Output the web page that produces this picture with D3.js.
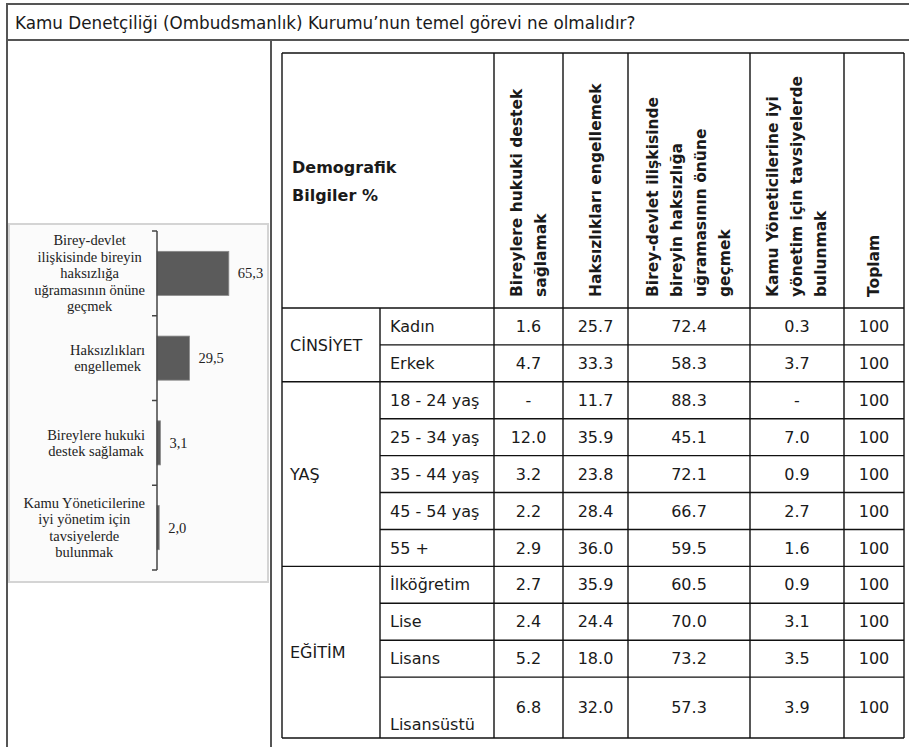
<!DOCTYPE html>
<html lang="tr">
<head>
<meta charset="UTF-8">
<title>Kamu Denetçiliği</title>
<script src="https://d3js.org/d3.v7.min.js"></script>
<style>
  html, body { margin: 0; padding: 0; background: #fff; }
  svg { display: block; }
  .t { font-family: "DejaVu Sans", sans-serif; fill: #1a1a1a; }
  .serif { font-family: "Liberation Serif", "Times New Roman", serif; fill: #222; }
</style>
</head>
<body>
<svg width="909" height="747"></svg>
<script>
// ---- data ----
const title = "Kamu Denetçiliği (Ombudsmanlık) Kurumu’nun temel görevi ne olmalıdır?";

// left bar chart
const chartLabels = [
  ["Birey-devlet", "ilişkisinde bireyin", "haksızlığa", "uğramasının önüne", "geçmek"],
  ["Haksızlıkları", "engellemek"],
  ["Bireylere hukuki", "destek sağlamak"],
  ["Kamu Yöneticilerine", "iyi yönetim için", "tavsiyelerde", "bulunmak"]
];
const chartValues = [65.3, 29.5, 3.1, 2.0];

// table
const headerLines = [
  ["Bireylere hukuki destek", "sağlamak"],
  ["Haksızlıkları engellemek"],
  ["Birey-devlet ilişkisinde", "bireyin haksızlığa", "uğramasının önüne", "geçmek"],
  ["Kamu Yöneticilerine iyi", "yönetim için tavsiyelerde", "bulunmak"],
  ["Toplam"]
];
const groups = ["CİNSİYET", "YAŞ", "EĞİTİM"];
const groupSizes = [2, 5, 4];
const subLabels = ["Kadın", "Erkek", "18 - 24 yaş", "25 - 34 yaş", "35 - 44 yaş", "45 - 54 yaş", "55 +",
                   "İlköğretim", "Lise", "Lisans", "Lisansüstü"];
const hukukiDestek    = [1.6, 4.7, null, 12.0, 3.2, 2.2, 2.9, 2.7, 2.4, 5.2, 6.8];
const haksizlik       = [25.7, 33.3, 11.7, 35.9, 23.8, 28.4, 36.0, 35.9, 24.4, 18.0, 32.0];
const bireyDevlet     = [72.4, 58.3, 88.3, 45.1, 72.1, 66.7, 59.5, 60.5, 70.0, 73.2, 57.3];
const yoneticiTavsiye = [0.3, 3.7, null, 7.0, 0.9, 2.7, 1.6, 0.9, 3.1, 3.5, 3.9];
const toplam          = [100, 100, 100, 100, 100, 100, 100, 100, 100, 100, 100];

const valueCols = [hukukiDestek, haksizlik, bireyDevlet, yoneticiTavsiye, toplam];

// ---- drawing ----
const svg = d3.select("svg");

// outer frame
const frame = svg.append("g").attr("stroke", "#555").attr("stroke-width", 2);
frame.append("line").attr("x1", 7).attr("x2", 909).attr("y1", 4).attr("y2", 4);
frame.append("line").attr("x1", 7).attr("x2", 909).attr("y1", 40).attr("y2", 40);
frame.append("line").attr("x1", 7).attr("x2", 7).attr("y1", 3).attr("y2", 747);
frame.append("line").attr("x1", 271).attr("x2", 271).attr("y1", 40).attr("y2", 747);

svg.append("text").attr("class", "t")
  .attr("x", 15).attr("y", 23).attr("dy", "0.35em")
  .style("font-size", "16.8px")
  .text(title);

// left chart (picture-like panel)
const panel = svg.append("g");
panel.append("rect")
  .attr("x", 9).attr("y", 224).attr("width", 259).attr("height", 358)
  .attr("fill", "#fbfbfb").attr("stroke", "#d4d4d4").attr("stroke-width", 2);

const y = d3.scaleBand()
  .domain(d3.range(chartValues.length))
  .range([231, 570])
  .paddingInner(0.48).paddingOuter(0.24);
const x = d3.scaleLinear().domain([0, 100]).range([157, 267]);

panel.append("g")
  .selectAll("rect")
  .data(chartValues)
  .join("rect")
    .attr("x", x(0))
    .attr("y", (d, i) => y(i))
    .attr("width", d => x(d) - x(0))
    .attr("height", y.bandwidth())
    .attr("fill", "#5b5b5b")
    .attr("stroke", "#8a8a8a")
    .attr("stroke-width", 0.8);

// axis with ticks between categories
const step = y.step();
const firstEdge = y(0) - (y.paddingInner() * step) / 2;
const tickYs = d3.range(chartValues.length + 1).map(i => firstEdge + i * step);
panel.append("line")
  .attr("x1", x(0)).attr("x2", x(0))
  .attr("y1", tickYs[0]).attr("y2", tickYs[tickYs.length - 1])
  .attr("stroke", "#444").attr("stroke-width", 1.5);
panel.append("g").selectAll("line")
  .data(tickYs)
  .join("line")
    .attr("x1", x(0) - 5).attr("x2", x(0))
    .attr("y1", d => d).attr("y2", d => d)
    .attr("stroke", "#444").attr("stroke-width", 1.5);

panel.append("g").selectAll("text")
  .data(chartValues)
  .join("text")
    .attr("class", "serif")
    .attr("x", d => Math.max(x(d) + 9, x(0) + 10))
    .attr("y", (d, i) => y(i) + y.bandwidth() / 2)
    .attr("dy", "0.35em")
    .style("font-size", "14.5px")
    .text(d => d.toFixed(1).replace(".", ","));

// category labels: centred lines, block right edge near the axis
const lineH = 16.5;
chartLabels.forEach((lines, i) => {
  const g = panel.append("g");
  const cy = y(i) + y.bandwidth() / 2;
  const txt = g.selectAll("text")
    .data(lines)
    .join("text")
      .attr("class", "serif")
      .attr("y", (d, j) => cy + (j - (lines.length - 1) / 2) * lineH)
      .attr("dy", "0.35em")
      .attr("text-anchor", "middle")
      .style("font-size", "14.5px")
      .text(d => d);
  const maxW = d3.max(txt.nodes(), n => n.getComputedTextLength());
  txt.attr("x", 145 - maxW / 2);
});

// table
const colEdges = [282, 380, 494, 563, 628, 750, 844, 904];
const tableTop = 53, headBottom = 308, tableBottom = 738;
const rowWeights = subLabels.map((d, i) => i === subLabels.length - 1 ? 1.65 : 1);
const cum = [0];
rowWeights.forEach(w => cum.push(cum[cum.length - 1] + w));
const ry = d3.scaleLinear().domain([0, cum[cum.length - 1]]).range([headBottom, tableBottom]);

const tbl = svg.append("g");
const gridColor = "#111";

// horizontal lines
const hLines = [{ y: tableTop, x1: colEdges[0] }, { y: headBottom, x1: colEdges[0] }];
let gStart = 0;
groupSizes.forEach(n => {
  for (let k = 1; k <= n; k++) {
    hLines.push({ y: ry(cum[gStart + k]), x1: k === n ? colEdges[0] : colEdges[1] });
  }
  gStart += n;
});
tbl.append("g").selectAll("line")
  .data(hLines)
  .join("line")
    .attr("x1", d => d.x1).attr("x2", colEdges[colEdges.length - 1])
    .attr("y1", d => d.y).attr("y2", d => d.y)
    .attr("stroke", gridColor).attr("stroke-width", 1.4);

// vertical lines
tbl.append("g").selectAll("line")
  .data(colEdges)
  .join("line")
    .attr("x1", d => d).attr("x2", d => d)
    .attr("y1", (d, i) => i === 1 ? headBottom : tableTop)
    .attr("y2", tableBottom)
    .attr("stroke", gridColor).attr("stroke-width", 1.4);

// header
["Demografik", "Bilgiler %"].forEach((s, j) => {
  tbl.append("text").attr("class", "t")
    .attr("x", 292).attr("y", 167 + j * 28).attr("dy", "0.35em")
    .style("font-size", "16px").style("font-weight", "bold")
    .text(s);
});

const headLH = 24;
headerLines.forEach((lines, c) => {
  const cx = (colEdges[c + 2] + colEdges[c + 3]) / 2;
  lines.forEach((line, j) => {
    const lx = cx + (j - (lines.length - 1) / 2) * headLH;
    tbl.append("text").attr("class", "t")
      .attr("transform", `translate(${lx},297) rotate(-90)`)
      .attr("dy", "0.35em")
      .style("font-size", "15.5px").style("font-weight", "bold")
      .text(line);
  });
});

// group labels
gStart = 0;
groups.forEach((name, gi) => {
  const n = groupSizes[gi];
  const yc = (ry(cum[gStart]) + ry(cum[gStart + n])) / 2;
  tbl.append("text").attr("class", "t")
    .attr("x", 290).attr("y", yc).attr("dy", "0.35em")
    .style("font-size", "16px")
    .text(name);
  gStart += n;
});

// sub labels
tbl.append("g").selectAll("text")
  .data(subLabels)
  .join("text")
    .attr("class", "t")
    .attr("x", colEdges[1] + 10)
    .attr("y", (d, i) => i === subLabels.length - 1 ? ry(cum[i + 1]) - 14 : (ry(cum[i]) + ry(cum[i + 1])) / 2)
    .attr("dy", "0.35em")
    .style("font-size", "16px")
    .text(d => d);

// values
valueCols.forEach((vals, c) => {
  const cx = (colEdges[c + 2] + colEdges[c + 3]) / 2;
  tbl.append("g").selectAll("text")
    .data(vals)
    .join("text")
      .attr("class", "t")
      .attr("x", cx)
      .attr("y", (d, i) => (ry(cum[i]) + ry(cum[i + 1])) / 2)
      .attr("dy", "0.35em")
      .attr("text-anchor", "middle")
      .style("font-size", "16px")
      .text(d => d === null ? "-" : (c === 4 ? d : d.toFixed(1)));
});
</script>
</body>
</html>
